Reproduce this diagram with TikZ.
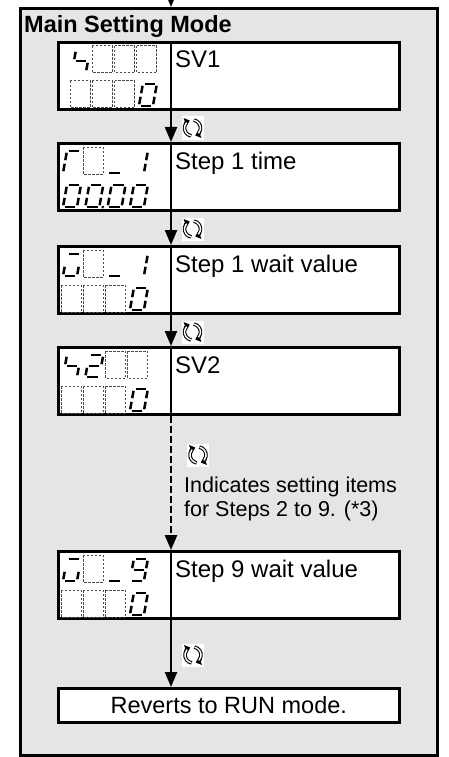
\documentclass[tikz,border=0pt]{standalone}
\usepackage{fontspec}
\setmainfont{Liberation Sans}
\usetikzlibrary{arrows.meta}
\definecolor{panel}{gray}{0.898}
\tikzset{
  panelbox/.style={draw=black, line width=2.6pt, fill=panel, rectangle, inner sep=0pt, anchor=north west},
  stepbox/.style={draw=black, line width=2.6pt, fill=white, rectangle, inner sep=0pt, minimum width=341pt, minimum height=67pt, anchor=north west},
  divider/.style={line width=2.2pt},
  flow/.style={line width=2.2pt, -{Triangle[length=15pt,width=12pt]}},
  dflow/.style={flow, dash pattern=on 7pt off 3pt, line width=2.6pt},
  lbl/.style={inner sep=0pt, font=\fontsize{24pt}{27pt}\selectfont, anchor=base west},
  notelbl/.style={inner sep=0pt, font=\fontsize{21.5pt}{24pt}\selectfont, anchor=base west},
  titlelbl/.style={inner sep=0pt, font=\bfseries\fontsize{23.5pt}{27pt}\selectfont, anchor=base west},
  seg/.style={line width=2.5pt, line cap=butt},
  dcell/.style={draw=black!70, line width=1pt, dash pattern=on 2.5pt off 1.5pt},
  iconbox/.style={fill=white, draw=none, rectangle, inner sep=0pt, minimum width=22pt, minimum height=23pt},
  iconouter/.style={line width=3.6pt, -{Triangle[length=5pt,width=8.5pt]}},
  iconinner/.style={line width=1.4pt, white},
}
\newcommand{\segdraw}[1]{%
  \if#1a\draw[seg] (1.8,22) -- (12.2,22);\fi
  \if#1b\draw[seg] (14,20.2) -- (14,12.8);\fi
  \if#1c\draw[seg] (14,9.2) -- (14,1.8);\fi
  \if#1d\draw[seg] (1.8,0) -- (12.2,0);\fi
  \if#1e\draw[seg] (0,9.2) -- (0,1.8);\fi
  \if#1f\draw[seg] (0,20.2) -- (0,12.8);\fi
  \if#1g\draw[seg] (1.8,11) -- (12.2,11);\fi
  \if#1p\fill (17.5,0) circle (1.5pt);\fi
}
\newcommand{\digitat}[3]{%
  \begin{scope}[shift={(#1+3,#2)}, y=1pt, xslant=0.18]
    \foreach \s in {#3} {\segdraw{\s}}
  \end{scope}}
\newcommand{\dashcell}[2]{\draw[dcell] (#1+1,#2) rectangle (#1+21,#2+27);}
% #1 name, #2 position
\newcommand{\cycicon}[2]{%
  \node[iconbox] (#1) at (#2) {};
  \begin{scope}[shift={(#1.center)}]
    \draw[iconouter] (100:8) arc (100:250:8);
    \draw[iconouter] (280:8) arc (280:430:8);
    \draw[iconinner] (102:8) arc (102:222:8);
    \draw[iconinner] (282:8) arc (282:402:8);
  \end{scope}}

\begin{document}
\begin{tikzpicture}[x=1pt, y=-1pt]
\useasboundingbox (0,0) rectangle (449,757);
\clip (0,0) rectangle (449,757);

% outer panel
\node[panelbox, minimum width=417pt, minimum height=747pt] (outer) at (19,7) {};
\node[titlelbl] (title) at (24,33) {Main Setting Mode};
\coordinate (flowx) at (171,0);
\coordinate (in) at (171,-20);

% step boxes
\node[stepbox] (b1) at (57,41) {};
\node[stepbox] (b2) at (57,142) {};
\node[stepbox] (b3) at (57,245) {};
\node[stepbox] (b4) at (57,346) {};
\node[stepbox] (b5) at (57,550) {};
\node[stepbox, minimum height=34pt, font=\fontsize{23.5pt}{27pt}\selectfont] (run) at (57,687) {Reverts to RUN mode.};

% dividers
\foreach \b in {b1,b2,b3,b4,b5}
  \draw[divider] (\b.north -| flowx) -- (\b.south -| flowx);

% labels
\node[lbl] (l1) at (175,68) {SV1};
\node[lbl] (l2) at (175,169) {Step 1 time};
\node[lbl] (l3) at (175,272) {Step 1 wait value};
\node[lbl] (l4) at (175,373) {SV2};
\node[lbl] (l5) at (175,577) {Step 9 wait value};

% connectors
\draw[flow] (in) -- (outer.north -| flowx);
\draw[flow] (b1.south -| flowx) -- (b2.north -| flowx);
\draw[flow] (b2.south -| flowx) -- (b3.north -| flowx);
\draw[flow] (b3.south -| flowx) -- (b4.north -| flowx);
\draw[dflow] (b4.south -| flowx) -- (b5.north -| flowx);
\draw[flow] (b5.south -| flowx) -- (run.north -| flowx);

% icons
\cycicon{ic1}{192.5,128}
\cycicon{ic2}{192.5,229}
\cycicon{ic3}{192.5,332}
\cycicon{ic4}{198,455}
\cycicon{ic5}{193,655}

\node[notelbl] (n1) at (184,492) {Indicates setting items};
\node[notelbl] (n2) at (184,516) {for Steps 2 to 9. (*3)};

% ---- displays ----
% box 1
\digitat{69}{72}{f,g,c}
\dashcell{91.3}{46}\dashcell{113.6}{46}\dashcell{135.9}{46}
\dashcell{69}{81}\dashcell{91.3}{81}\dashcell{113.6}{81}
\digitat{135.9}{106}{a,b,c,d,e,f}
% box 2
\digitat{60}{173}{a,e,f}
\dashcell{82.3}{147}
\digitat{104.6}{173}{d}
\digitat{126.9}{173}{b,c}
\digitat{60}{207}{a,b,c,d,e,f}
\digitat{82.3}{207}{a,b,c,d,e,f,p}
\digitat{104.6}{207}{a,b,c,d,e,f}
\digitat{126.9}{207}{a,b,c,d,e,f}
% box 3
\digitat{60}{276}{a,c,d,e}
\dashcell{82.3}{250}
\digitat{104.6}{276}{d}
\digitat{126.9}{276}{b,c}
\dashcell{60}{285}\dashcell{82.3}{285}\dashcell{104.6}{285}
\digitat{126.9}{310}{a,b,c,d,e,f}
% box 4
\digitat{60}{377}{f,g,c}
\digitat{82.3}{377}{a,b,g,e,d}
\dashcell{104.6}{351}\dashcell{126.9}{351}
\dashcell{60}{386}\dashcell{82.3}{386}\dashcell{104.6}{386}
\digitat{126.9}{411}{a,b,c,d,e,f}
% box 5
\digitat{60}{581}{a,c,d,e}
\dashcell{82.3}{555}
\digitat{104.6}{581}{d}
\digitat{126.9}{581}{a,b,c,d,f,g}
\dashcell{60}{590}\dashcell{82.3}{590}\dashcell{104.6}{590}
\digitat{126.9}{615}{a,b,c,d,e,f}
\end{tikzpicture}
\end{document}
